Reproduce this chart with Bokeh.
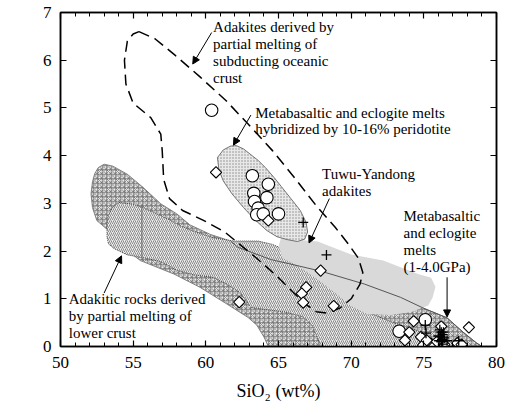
import numpy as np
from bokeh.plotting import figure
from bokeh.models import LinearAxis, FixedTicker, Arrow, NormalHead, Label
from bokeh.embed import file_html
from bokeh.resources import INLINE

# ---- field outlines (SiO2, MgO in wt%) ----
# Metabasaltic and eclogite melts (1-4.0 GPa): cross-hatched band
melt_x = [52.6, 53.0, 53.6, 54.6, 55.7, 56.9, 58.0, 58.9, 60.3, 61.7, 62.2, 64.5, 65.8, 67.9,
          70.9, 73.4, 75.0, 76.6, 77.7, 78.6, 79.0,
          64.3, 64.0, 63.5, 62.9, 61.5, 59.6, 57.8, 55.5, 54.2, 53.3, 52.5, 52.2, 52.1, 52.2, 52.35]
melt_y = [3.75, 3.82, 3.78, 3.61, 3.33, 2.99, 2.78, 2.55, 2.35, 2.21, 2.08, 1.82, 1.73, 1.58,
          1.31, 1.03, 0.80, 0.60, 0.30, 0.08, 0.00,
          0.00, 0.20, 0.45, 0.61, 0.88, 1.24, 1.52, 1.80, 2.10, 2.43, 2.64, 2.91, 3.20, 3.45, 3.62]

# Upper edge of the melt band that stays visible over the other fields
edge_x = [61.7, 62.2, 64.5, 65.8, 67.9, 70.9, 73.4, 75.0, 76.6, 77.7, 78.6, 79.0]
edge_y = [2.21, 2.08, 1.82, 1.73, 1.58, 1.31, 1.03, 0.80, 0.60, 0.30, 0.08, 0.00]

# Adakitic rocks derived by partial melting of lower crust: diagonal hatch
lc_x = [53.6, 54.0, 55.0, 55.7, 56.7, 57.6, 58.3, 59.3, 60.5, 61.9, 63.6, 64.6, 65.6, 66.5,
        67.5, 68.8, 70.0, 71.1, 72.9, 74.6, 75.6, 76.0,
        67.9, 67.6, 67.3, 66.7, 65.5, 64.0, 63.1, 62.4, 61.5, 60.5, 59.2, 58.0, 56.9, 55.7,
        54.6, 53.7, 53.3, 53.2, 53.2, 53.3]
lc_y = [2.92, 3.02, 2.98, 2.91, 2.77, 2.64, 2.52, 2.40, 2.28, 2.21, 2.21, 2.14, 2.00, 1.75,
        1.50, 1.20, 0.92, 0.72, 0.50, 0.33, 0.15, 0.00,
        0.00, 0.25, 0.45, 0.62, 0.72, 0.78, 0.82, 1.12, 1.30, 1.45, 1.50, 1.60, 1.78, 1.86,
        1.92, 2.05, 2.15, 2.30, 2.55, 2.75]
lc_div_x = [55.6, 55.6]
lc_div_y = [1.87, 2.96]

# Tuwu-Yandong adakites: plain grey field
tw_x = [65.2, 66.5, 67.7, 70.0, 72.2, 74.6, 75.5, 75.8, 75.6, 75.3, 74.1, 72.7, 71.1, 70.0,
        68.8, 67.5, 66.3, 65.3, 65.0]
tw_y = [2.30, 2.23, 2.20, 1.93, 1.80, 1.52, 1.44, 1.25, 1.02, 0.86, 0.72, 0.66, 0.68, 0.85,
        1.15, 1.45, 1.70, 1.85, 2.10]

# Metabasaltic and eclogite melts hybridized by 10-16% peridotite: stippled field
hy_x = [61.7, 61.2, 60.8, 60.9, 61.2, 61.8, 62.6, 63.4, 64.2, 64.9, 65.6, 66.3, 66.8, 67.0,
        66.9, 66.5, 65.8, 65.2, 64.7, 64.1, 63.6, 62.6, 62.1]
hy_y = [4.20, 4.12, 3.96, 3.70, 3.47, 3.20, 2.91, 2.65, 2.43, 2.30, 2.24, 2.20, 2.25, 2.40,
        2.60, 2.85, 3.12, 3.35, 3.54, 3.75, 3.90, 4.14, 4.21]

# Adakites derived by partial melting of subducting oceanic crust: dashed outline
sl_x = [55.4, 56.5, 57.9, 59.6, 61.4, 63.1, 64.6, 66.2, 67.6, 68.9, 69.8, 70.5, 70.8, 70.6,
        70.0, 69.2, 68.3, 67.6, 66.8, 65.8, 64.8, 63.5, 62.5, 61.3, 59.8, 58.4, 57.5, 57.1,
        57.0, 56.9, 56.2, 55.0, 54.5, 54.4, 54.6, 55.0, 55.4]
sl_y = [6.60, 6.45, 6.10, 5.65, 5.15, 4.60, 4.10, 3.50, 2.95, 2.50, 2.15, 1.85, 1.55, 1.30,
        1.00, 0.80, 0.70, 0.73, 0.90, 1.20, 1.50, 1.85, 2.10, 2.40, 2.65, 2.85, 3.10, 3.50,
        4.10, 4.45, 4.80, 5.10, 5.50, 6.00, 6.40, 6.55, 6.60]

# ---- samples ----
circ_x = [60.4, 63.2, 64.3, 63.3, 64.2, 63.35, 63.6, 63.5, 63.95, 65.0, 75.1, 73.3]
circ_y = [4.95, 3.58, 3.40, 3.21, 3.12, 3.04, 2.90, 2.76, 2.78, 2.78, 0.56, 0.32]

diam_x = [60.7, 64.3, 62.3, 67.9, 66.9, 66.6, 66.7, 68.8, 74.3, 74.0, 73.7, 74.8, 74.95,
          75.5, 75.7, 75.2, 76.2, 78.1, 77.3, 77.6, 76.4, 75.9]
diam_y = [3.65, 2.64, 0.93, 1.59, 1.24, 1.11, 0.92, 0.85, 0.53, 0.30, 0.13, 0.20, 0.03,
          0.06, 0.01, 0.13, 0.42, 0.40, 0.07, 0.04, 0.04, 0.10]

plus_x = [66.7, 68.3, 75.1, 75.15, 76.1, 76.2, 76.3, 76.15, 76.25, 76.2, 76.3, 76.05, 76.35,
          76.0, 76.4, 76.6, 77.4]
plus_y = [2.60, 1.92, 0.45, 0.28, 0.35, 0.30, 0.25, 0.20, 0.15, 0.10, 0.05, 0.12, 0.30,
          0.22, 0.18, 0.12, 0.12]

x_major = [50, 55, 60, 65, 70, 75, 80]
x_minor = list(range(50, 81))
y_major = [0, 1, 2, 3, 4, 5, 6, 7]

SERIF = "Liberation Serif"

p = figure(width=506, height=405, x_range=(50, 80), y_range=(0, 7),
           output_backend="svg", toolbar_location=None,
           min_border_left=60, min_border_right=10, min_border_top=12, min_border_bottom=59)
p.background_fill_color = "white"
p.border_fill_color = "white"
p.grid.visible = False
p.outline_line_color = "black"
p.outline_line_width = 1.5

xt = FixedTicker(ticks=x_major, minor_ticks=x_minor)
yt = FixedTicker(ticks=y_major, minor_ticks=[])


def style_axis(ax, ticker, labels=True):
    ax.ticker = ticker
    ax.axis_line_color = "black"
    ax.axis_line_width = 1.5
    ax.major_tick_in = 6
    ax.major_tick_out = 0
    ax.minor_tick_in = 4
    ax.minor_tick_out = 0
    ax.major_tick_line_width = 1.2
    ax.minor_tick_line_width = 1.0
    ax.major_label_text_font = SERIF
    ax.major_label_text_font_size = "17px"
    ax.major_label_text_color = "black"
    if not labels:
        ax.major_label_overrides = {t: "" for t in ticker.ticks}
        ax.major_label_standoff = 0


style_axis(p.xaxis[0], xt)
style_axis(p.yaxis[0], yt)
p.xaxis.major_label_standoff = 10
p.yaxis.major_label_standoff = 9
p.xaxis.axis_label = "SiO₂ (wt%)"
p.xaxis.axis_label_text_font = SERIF
p.xaxis.axis_label_text_font_size = "18px"
p.xaxis.axis_label_text_font_style = "normal"
p.xaxis.axis_label_text_color = "black"
p.xaxis.axis_label_standoff = 10

top_ax = LinearAxis()
style_axis(top_ax, xt, labels=False)
p.add_layout(top_ax, "above")
right_ax = LinearAxis()
style_axis(right_ax, yt, labels=False)
p.add_layout(right_ax, "right")

# y-axis title, placed in screen units relative to the plot frame
p.add_layout(Label(x=-41, y=184, x_units="screen", y_units="screen",
                   text="MgO (wt%)", angle=np.pi / 2, text_font=SERIF,
                   text_font_size="18px", text_color="black",
                   text_align="center", text_baseline="middle"))

# ---- fields ----
p.patch(melt_x, melt_y, fill_color="#f0f0f0", hatch_pattern="criss_cross",
        hatch_color="#767676", hatch_scale=4.5, hatch_weight=0.9,
        line_color="#777777", line_width=0.9)
p.patch(lc_x, lc_y, fill_color="#ececec", hatch_pattern="right_diagonal_line",
        hatch_color="#8a8a8a", hatch_scale=4, hatch_weight=1.0,
        line_color="#444444", line_width=1.0, line_dash="1 1")
p.line(lc_div_x, lc_div_y, line_color="#555555", line_width=0.8)
p.patch(tw_x, tw_y, fill_color="#d9d9d9", line_color=None)
p.line(edge_x, edge_y, line_color="#555555", line_width=1.0)
p.patch(hy_x, hy_y, fill_color="#e8e8e8", hatch_pattern="dot",
        hatch_color="#8a8a8a", hatch_scale=3, hatch_weight=0.6,
        line_color="#666666", line_width=0.9)
p.line(sl_x, sl_y, line_color="black", line_width=1.5, line_dash="11 6")

# ---- samples ----
p.scatter(circ_x, circ_y, marker="circle", size=12.5, fill_color="white",
          line_color="black", line_width=1.1)
p.scatter(diam_x, diam_y, marker="square", angle=np.pi / 4, size=8,
          fill_color="white", line_color="black", line_width=1.1)
p.scatter(plus_x, plus_y, marker="cross", size=10, line_color="black", line_width=1.3)

# ---- arrows ----
arrows = [
    (60.4, 6.58, 59.1, 5.92),
    (63.1, 4.85, 61.9, 4.22),
    (68.5, 3.10, 67.1, 2.17),
    (53.0, 1.12, 54.2, 1.90),
    (76.6, 1.45, 76.6, 0.62),
]
for x0, y0, x1, y1 in arrows:
    p.add_layout(Arrow(x_start=x0, y_start=y0, x_end=x1, y_end=y1,
                       line_color="black", line_width=1.0,
                       end=NormalHead(size=7, fill_color="black", line_color="black")))

# ---- annotations ----
notes = [
    (60.5, [6.70, 6.35, 5.99, 5.63],
     ["Adakites derived by", "partial melting of", "subducting oceanic", "crust"]),
    (63.4, [4.90, 4.56],
     ["Metabasaltic and eclogite melts", "hybridized by 10-16% peridotite"]),
    (68.0, [3.61, 3.26], ["Tuwu-Yandong", "adakites"]),
    (73.6, [2.74, 2.38, 2.02, 1.66],
     ["Metabasaltic", "and eclogite", "melts", "(1-4.0GPa)"]),
    (50.57, [0.99, 0.64, 0.29],
     ["Adakitic rocks derived", "by partial melting of", " lower crust"]),
]
for x0, ys, lines in notes:
    for yy, txt in zip(ys, lines):
        p.add_layout(Label(x=x0, y=yy, text=txt, text_font=SERIF,
                           text_font_size="15px", text_color="black",
                           text_baseline="middle", text_align="left"))

open("out.html", "w").write(file_html(p, INLINE))
